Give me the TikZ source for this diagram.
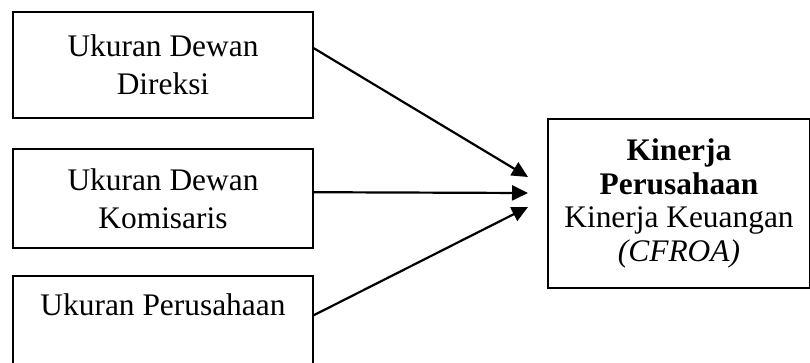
\documentclass[tikz,border=0pt]{standalone}
\usepackage{fontspec}
\setmainfont{Liberation Serif}
\usetikzlibrary{arrows.meta}

\begin{document}
\begin{tikzpicture}[x=1pt,y=-1pt,
    box/.style={draw, line width=1.6pt, align=center, inner sep=0pt},
    varbox/.style={box, minimum width=300pt, font=\fontsize{31.4}{38}\selectfont},
    arr/.style={line width=2.2pt, -{Triangle[length=16pt,width=15pt]}}]
    \useasboundingbox (0,0) rectangle (810,362);

    % variabel independen
    \node[varbox, minimum height=106pt] (ukd) at (163,65) {Ukuran Dewan\\Direksi};
    \node[varbox, minimum height=99pt] (ukk) at (163,198.5) {Ukuran Dewan\\Komisaris};
    \node[varbox, minimum height=100pt, text height=22pt, text depth=44pt] (ukp) at (163,326) {Ukuran Perusahaan};

    % variabel dependen
    \node[box, minimum width=262pt, minimum height=169pt,
          font=\fontsize{31.4}{33.5}\selectfont] (kin) at (679,203.5)
        {\textbf{Kinerja}\\\textbf{Perusahaan}\\Kinerja Keuangan\\\textit{(CFROA)}};

    % ujung panah
    \coordinate (t1) at (528,177);
    \coordinate (t2) at (528,193);
    \coordinate (t3) at (528,207);

    \draw[arr] ([yshift=-37pt]ukd.north east) -- (t1);
    \draw[arr] ([yshift=-44pt]ukk.north east) -- (t2);
    \draw[arr] ([yshift=-40pt]ukp.north east) -- (t3);
\end{tikzpicture}
\end{document}
